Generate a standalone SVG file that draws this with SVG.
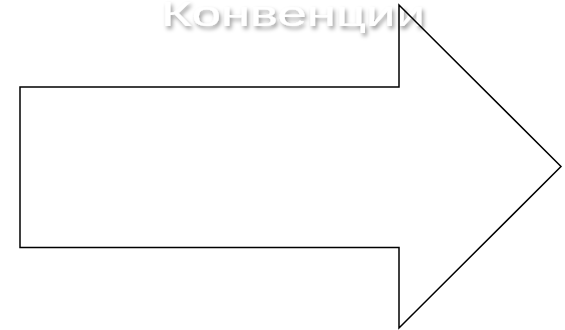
<svg xmlns="http://www.w3.org/2000/svg" width="565" height="330" viewBox="0 0 565 330">
  <defs>
    <filter id="shadow" x="-10%" y="-50%" width="120%" height="200%">
      <feDropShadow dx="2" dy="3" stdDeviation="2.2" flood-color="#000" flood-opacity="0.4"/>
    </filter>
    <style>
      .title { font-family: "Liberation Sans", Arial, sans-serif; font-size: 35px; fill: #ffffff; filter: url(#shadow); }
      .arrow { fill: none; stroke: #000; stroke-width: 1.5; stroke-linejoin: miter; }
    </style>
  </defs>
  <rect width="565" height="330" fill="#ffffff"/>
  <g id="title">
    <text class="title" x="161" y="25.5" textLength="264" lengthAdjust="spacingAndGlyphs">Конвенции</text>
  </g>
  <g id="arrow">
    <polygon class="arrow" points="20,87 399,87 399,5 561,166.5 399,328 399,247.5 20,247.5"/>
  </g>
  <g id="connectors"/>
</svg>
